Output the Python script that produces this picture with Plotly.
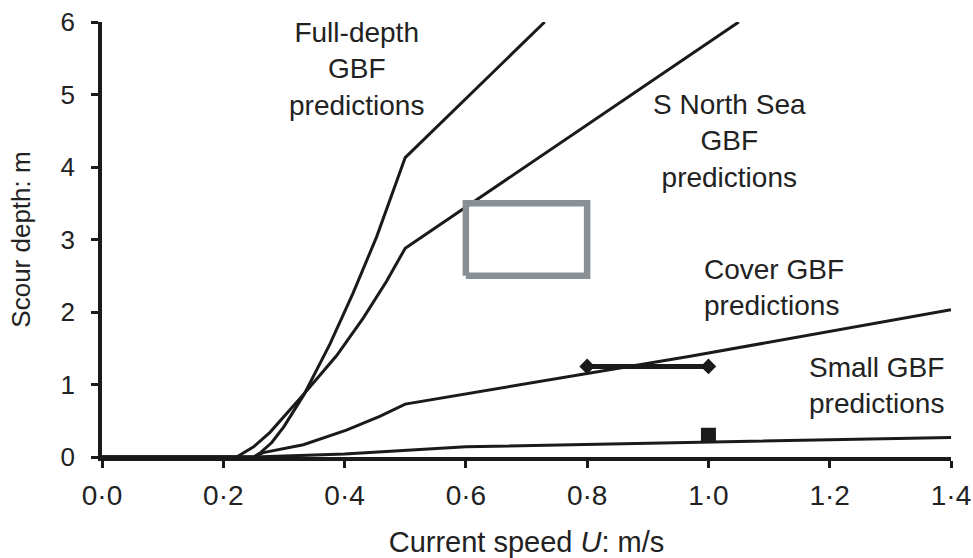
import plotly.graph_objects as go

# ---- data ----
full_x = [0.0, 0.25, 0.26, 0.28, 0.30, 0.333, 0.376, 0.414, 0.453, 0.48, 0.50, 0.73]
full_y = [0.0, 0.0, 0.05, 0.20, 0.42, 0.86, 1.56, 2.26, 3.04, 3.66, 4.13, 6.0]

snorth_x = [0.0, 0.222, 0.25, 0.277, 0.329, 0.387, 0.431, 0.469, 0.50, 1.05]
snorth_y = [0.0, 0.0, 0.14, 0.34, 0.83, 1.40, 1.92, 2.42, 2.88, 6.0]

cover_x = [0.0, 0.25, 0.266, 0.332, 0.403, 0.458, 0.50, 0.97, 1.40]
cover_y = [0.0, 0.0, 0.06, 0.17, 0.37, 0.56, 0.73, 1.39, 2.03]

small_x = [0.0, 0.25, 0.40, 0.60, 1.40]
small_y = [0.0, 0.0, 0.04, 0.14, 0.27]

obs_range_x = [0.8, 1.0]
obs_range_y = [1.25, 1.25]

obs_point_x = [1.0]
obs_point_y = [0.3]

box_x = [0.6, 0.8, 0.8, 0.6, 0.6]
box_y = [2.5, 2.5, 3.5, 3.5, 2.5]

x_ticks = [0.0, 0.2, 0.4, 0.6, 0.8, 1.0, 1.2, 1.4]
x_ticklabels = ["0·0", "0·2", "0·4", "0·6", "0·8", "1·0", "1·2", "1·4"]
y_ticks = [0, 1, 2, 3, 4, 5, 6]
y_ticklabels = ["0", "1", "2", "3", "4", "5", "6"]

labels = [
    dict(x=0.42, y=5.35, text="Full-depth<br>GBF<br>predictions", align="center", xanchor="center"),
    dict(x=1.035, y=4.36, text="S North Sea<br>GBF<br>predictions", align="center", xanchor="center"),
    dict(x=0.99, y=2.34, text="Cover GBF<br>predictions", align="left", xanchor="left"),
    dict(x=1.163, y=0.98, text="Small GBF<br>predictions", align="left", xanchor="left"),
]

FONT = "Liberation Sans, Arial, sans-serif"
LINE = "#1a1a1a"
TXT = "#222222"

fig = go.Figure()

for xs, ys in [(full_x, full_y), (snorth_x, snorth_y), (cover_x, cover_y), (small_x, small_y)]:
    fig.add_trace(go.Scatter(x=xs, y=ys, mode="lines", line=dict(color=LINE, width=3),
                             cliponaxis=False, showlegend=False, hoverinfo="skip"))

fig.add_trace(go.Scatter(x=box_x, y=box_y, mode="lines", line=dict(color="#889096", width=6.5),
                         showlegend=False, hoverinfo="skip"))

fig.add_trace(go.Scatter(x=obs_range_x, y=obs_range_y, mode="lines+markers",
                         line=dict(color=LINE, width=5),
                         marker=dict(symbol="diamond", size=12, color=LINE),
                         showlegend=False, hoverinfo="skip"))

fig.add_trace(go.Scatter(x=obs_point_x, y=obs_point_y, mode="markers",
                         marker=dict(symbol="square", size=15, color=LINE),
                         showlegend=False, hoverinfo="skip"))

for lb in labels:
    fig.add_annotation(x=lb["x"], y=lb["y"], xref="x", yref="y", text=lb["text"],
                       showarrow=False, align=lb["align"], xanchor=lb["xanchor"], yanchor="middle",
                       font=dict(family=FONT, size=28, color=TXT))

fig.update_layout(
    width=973, height=558,
    margin=dict(l=102, r=22, t=22, b=101),
    paper_bgcolor="white", plot_bgcolor="white",
    font=dict(family=FONT, size=26, color=TXT),
    showlegend=False,
)

fig.update_xaxes(
    range=[0, 1.4], tickvals=x_ticks, ticktext=x_ticklabels,
    showgrid=False, zeroline=False, showline=True, linecolor=LINE, linewidth=3.5,
    ticks="outside", ticklen=7, tickwidth=2.5, tickcolor=LINE,
    tickfont=dict(family=FONT, size=28, color=TXT), ticklabelstandoff=4,
    ticklabeloverflow="allow",
    title=dict(text="Current speed <i>U</i>: m/s", font=dict(family=FONT, size=29, color=TXT), standoff=22),
    automargin=False,
)
fig.update_yaxes(
    range=[0, 6], tickvals=y_ticks, ticktext=y_ticklabels,
    showgrid=False, zeroline=False, showline=True, linecolor=LINE, linewidth=3.5,
    ticks="outside", ticklen=7, tickwidth=2.5, tickcolor=LINE,
    tickfont=dict(family=FONT, size=26, color=TXT), ticklabelstandoff=11,
    ticklabeloverflow="allow",
    title=dict(text="Scour depth: m", font=dict(family=FONT, size=26, color=TXT), standoff=23),
    automargin=False,
)

fig.write_html(
    "out.html",
    config={"displayModeBar": False},
    post_script="document.body.style.margin='0';document.body.style.overflow='hidden';",
)
